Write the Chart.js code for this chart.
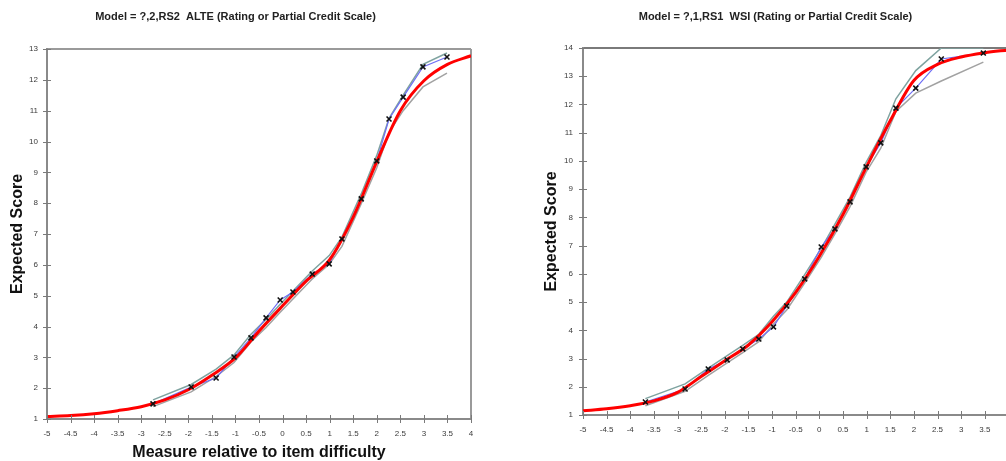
<!DOCTYPE html>
<html>
<head>
<meta charset="utf-8">
<script src="https://cdn.jsdelivr.net/npm/chart.js@4.4.1/dist/chart.umd.min.js"></script>
<style>
  html, body { margin: 0; padding: 0; background: #fff; overflow: hidden; width: 1006px; height: 461px; }
  canvas { position: absolute; top: 0; }
  #alte { left: 0; }
  #wsi { left: 540px; }
</style>
</head>
<body>
<canvas id="alte" width="478" height="461"></canvas>
<canvas id="wsi" width="474" height="461"></canvas>
<script>
// ALTE (RS2): observed averages and confidence band at each measure
const measureA = [-2.75, -1.94, -1.41, -1.03, -0.67, -0.35, -0.05, 0.22, 0.63, 0.99, 1.26, 1.67, 2.0, 2.26, 2.56, 2.98, 3.49];
const observedA = [1.49, 2.04, 2.33, 3.01, 3.63, 4.28, 4.86, 5.12, 5.70, 6.03, 6.84, 8.14, 9.37, 10.73, 11.44, 12.42, 12.74];
const upperA = [1.62, 2.12, 2.62, 3.08, 3.75, 4.23, 4.72, 5.15, 5.8, 6.3, 6.9, 8.3, 9.55, 10.75, 11.5, 12.5, 12.87];
const lowerA = [1.40, 1.88, 2.38, 2.83, 3.5, 3.97, 4.46, 4.89, 5.54, 6.02, 6.6, 7.98, 9.15, 10.3, 11.0, 11.77, 12.22];

// WSI (RS1)
const measureB = [-3.68, -2.84, -2.35, -1.95, -1.62, -1.28, -0.97, -0.69, -0.31, 0.04, 0.33, 0.65, 0.99, 1.30, 1.62, 2.04, 2.58, 3.47];
const observedB = [1.46, 1.92, 2.63, 2.95, 3.34, 3.69, 4.12, 4.86, 5.82, 6.95, 7.59, 8.55, 9.79, 10.64, 11.87, 12.58, 13.61, 13.82];
const upperB = [1.58, 2.1, 2.66, 3.1, 3.47, 3.86, 4.5, 5.0, 5.97, 6.9, 7.76, 8.72, 9.95, 10.9, 12.2, 13.2, 14.0, 14.0];
const lowerB = [1.33, 1.84, 2.4, 2.85, 3.21, 3.6, 4.22, 4.72, 5.67, 6.58, 7.42, 8.38, 9.6, 10.45, 11.75, 12.4, 12.83, 13.5];

// model expected score curves (ICC)
const modelX = [-5, -4.5, -4, -3.5, -3, -2.5, -2, -1.5, -1, -0.5, 0, 0.5, 1, 1.5, 2, 2.5, 3, 3.5, 4];
const modelA = [1.08, 1.11, 1.17, 1.27, 1.40, 1.62, 1.95, 2.42, 2.98, 3.85, 4.67, 5.47, 6.17, 7.55, 9.35, 11.0, 11.97, 12.5, 12.78];
const modelB = [1.15, 1.22, 1.33, 1.50, 1.80, 2.36, 2.92, 3.48, 4.3, 5.34, 6.62, 8.1, 9.8, 11.42, 12.85, 13.42, 13.68, 13.83, 13.93];

const FONT = "'Liberation Sans', Arial, sans-serif";

function pts(xs, ys) {
  return xs.map((x, i) => ({ x: x, y: ys[i] }));
}

// tick marks that cross the axis lines
const crossTicks = {
  id: 'crossTicks',
  afterDatasetsDraw(chart) {
    const ctx = chart.ctx;
    const area = chart.chartArea;
    ctx.save();
    ctx.strokeStyle = '#7a7a7a';
    ctx.lineWidth = 1;
    ctx.beginPath();
    chart.scales.x.ticks.forEach(t => {
      const px = Math.round(chart.scales.x.getPixelForValue(t.value)) + 0.5;
      ctx.moveTo(px, area.bottom - 4);
      ctx.lineTo(px, area.bottom + 4);
    });
    chart.scales.y.ticks.forEach(t => {
      const py = Math.round(chart.scales.y.getPixelForValue(t.value)) + 0.5;
      ctx.moveTo(area.left - 4, py);
      ctx.lineTo(area.left + 4, py);
    });
    ctx.stroke();
    ctx.restore();
  }
};

function makeChart(id, cfg) {
  return new Chart(document.getElementById(id), {
    type: 'line',
    data: {
      datasets: [
        {
          // x markers on top of everything
          data: pts(cfg.measure, cfg.observed),
          showLine: false,
          pointStyle: 'crossRot',
          pointRadius: 3.5,
          pointBorderWidth: 1.6,
          pointBorderColor: '#111',
          pointBackgroundColor: '#111'
        },
        {
          data: pts(modelX, cfg.model),
          borderColor: '#ff0000',
          borderWidth: 3,
          cubicInterpolationMode: 'monotone',
          pointRadius: 0
        },
        {
          data: pts(cfg.measure, cfg.observed),
          borderColor: '#6f6ff5',
          borderWidth: 1.2,
          pointRadius: 0
        },
        {
          data: pts(cfg.measure, cfg.upper),
          borderColor: '#7fa3a0',
          borderWidth: 1.5,
          pointRadius: 0
        },
        {
          data: pts(cfg.measure, cfg.lower),
          borderColor: '#a2a2a2',
          borderWidth: 1.5,
          pointRadius: 0
        }
      ]
    },
    options: {
      responsive: false,
      animation: false,
      layout: { padding: { left: 0, right: cfg.padRight, top: 0, bottom: 0 } },
      plugins: {
        legend: { display: false },
        tooltip: { enabled: false },
        title: {
          display: true,
          text: cfg.title,
          color: '#222',
          font: { family: FONT, size: 11, weight: 'bold' },
          padding: { top: 10, bottom: cfg.titleGap }
        }
      },
      scales: {
        x: {
          type: 'linear',
          min: -5,
          max: 4,
          afterFit: s => {
            s.height = cfg.xHeight;
            s.paddingLeft = 0;
            s.paddingRight = 0;
          },
          border: { color: '#8a8a8a', width: 2 },
          grid: {
            drawTicks: false,
            color: c => (c.tick && c.tick.value === 4 ? '#9a9a9a' : 'rgba(0,0,0,0)'),
            lineWidth: 2
          },
          ticks: {
            stepSize: 0.5,
            autoSkip: false,
            maxRotation: 0,
            padding: 10,
            color: '#3a3a3a',
            font: { family: FONT, size: 8 },
            callback: v => String(v)
          },
          title: {
            display: cfg.xTitle !== '',
            text: cfg.xTitle,
            color: '#111',
            font: { family: FONT, size: 16, weight: 'bold', lineHeight: 1 },
            padding: { top: 0, bottom: 0 }
          }
        },
        y: {
          min: 1,
          max: cfg.yMax,
          afterFit: s => { s.width = cfg.yWidth; },
          border: { color: '#8a8a8a', width: 2 },
          grid: {
            drawTicks: false,
            color: c => (c.tick && c.tick.value === cfg.yMax ? cfg.topColor : 'rgba(0,0,0,0)'),
            lineWidth: 2
          },
          ticks: {
            stepSize: 1,
            autoSkip: false,
            padding: cfg.yPad,
            color: '#3a3a3a',
            font: { family: FONT, size: 8 }
          },
          title: {
            display: true,
            text: 'Expected Score',
            color: '#111',
            font: { family: FONT, size: 16, weight: 'bold' },
            padding: { top: cfg.yTitlePad, bottom: 0 }
          }
        }
      }
    },
    plugins: [crossTicks]
  });
}

makeChart('alte', {
  title: 'Model = ?,2,RS2  ALTE (Rating or Partial Credit Scale)',
  measure: measureA, observed: observedA, upper: upperA, lower: lowerA, model: modelA,
  yMax: 13, padRight: 7, titleGap: 25.8, xHeight: 42, yWidth: 47, yPad: 9, yTitlePad: 8,
  xTitle: 'Measure relative to item difficulty', topColor: '#9a9a9a'
});

makeChart('wsi', {
  title: 'Model = ?,1,RS1  WSI (Rating or Partial Credit Scale)',
  measure: measureB, observed: observedB, upper: upperB, lower: lowerB, model: modelB,
  yMax: 14, padRight: 3, titleGap: 24.8, xHeight: 46, yWidth: 43, yPad: 10, yTitlePad: 2.4,
  xTitle: '', topColor: '#7a7a7a'
});
</script>
</body>
</html>
